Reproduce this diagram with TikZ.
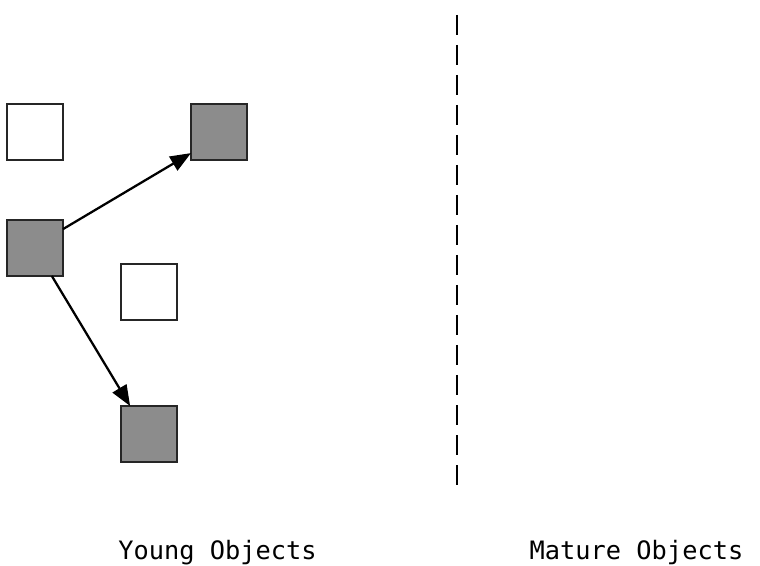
\documentclass[tikz,border=0pt]{standalone}
\usepackage{fontspec}
\setmonofont{DejaVu Sans Mono}
\usetikzlibrary{arrows.meta}
\definecolor{livegray}{HTML}{8C8C8C}
\begin{document}
\begin{tikzpicture}[x=0.75pt, y=-0.75pt,
  objbox/.style={draw=black!85, line width=1.9pt, minimum size=42pt, inner sep=0pt, outer sep=0pt},
  deadobj/.style={objbox, fill=white},
  liveobj/.style={objbox, fill=livegray},
  ref/.style={line width=1.7pt, -{Triangle[length=15.5pt,width=12pt]}},
  label/.style={font=\ttfamily\fontsize{19}{22}\selectfont, anchor=base}]
\useasboundingbox (0,0) rectangle (760,566);

% Objects
\node[deadobj] (free1) at (35,132) {};
\node[liveobj] (obj2) at (219,132) {};
\node[liveobj] (obj1) at (35,248) {};
\node[deadobj] (free2) at (149,292) {};
\node[liveobj] (obj3) at (149,434) {};

% References
\draw[ref] (obj1.34) -- (obj2.217);
\draw[ref] (obj1.301) -- (obj3.124);

% Divider
\draw[line width=1.7pt, dash pattern=on 15pt off 7.5pt] (457,15) -- (457,493);

% Labels
\node[label] (young) at (217.5,559) {Young Objects};
\node[label] (mature) at (636.5,559) {Mature Objects};
\end{tikzpicture}
\end{document}
